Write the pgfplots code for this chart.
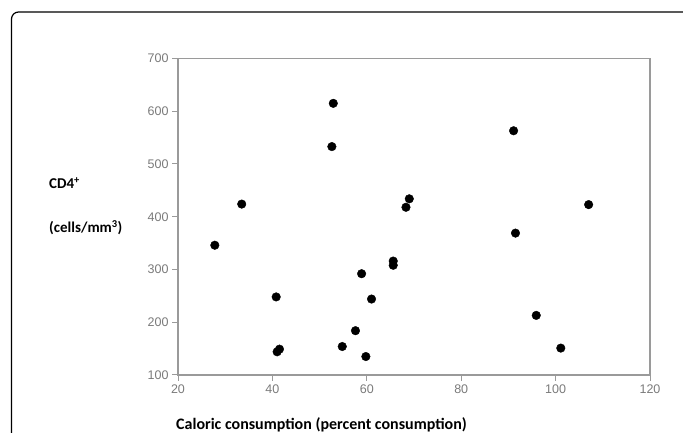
\documentclass[border=0pt]{standalone}
\usepackage{fontspec}
\setmainfont{Carlito}
\newfontfamily\arialfont{Liberation Sans}
\usepackage{pgfplots}
\pgfplotsset{compat=1.18}
\definecolor{axgray}{HTML}{9A9A9A}
\definecolor{tickgray}{HTML}{7A7A7A}

\begin{document}
\begin{tikzpicture}
  \useasboundingbox (0pt,0pt) rectangle (683pt,433pt);
  \begin{scope}
    \clip (0pt,0pt) rectangle (683pt,433pt);
    \draw[line width=1.2pt, rounded corners=7pt] (11.5pt,421pt) rectangle (720pt,-30pt);
  \end{scope}
  \begin{axis}[
      at={(178pt,58pt)}, anchor=south west,
      scale only axis,
      width  = 472pt,
      height = 316.5pt,
      xmin = 20, xmax = 120,
      ymin = 100, ymax = 700,
      xtick = {20,40,...,120},
      ytick = {100,200,...,700},
      xtick pos = bottom, ytick pos = left,
      tick align = outside,
      major tick length = 6pt,
      axis line style = {axgray, line width=1.5pt},
      tick style = {axgray, line width=1pt},
      tick label style = {font=\fontsize{12.5}{14}\selectfont\arialfont, text=tickgray},
      /pgf/number format/assume math mode=true,
    ]
    \addplot[only marks, mark=*, mark size=4.3pt, black] coordinates {
      (27.8,346)(33.5,424)(40.8,248)(41.5,149)(41.0,144)
      (52.9,615)(52.6,533)(54.8,154)(57.6,184)(58.9,292)
      (59.8,135)(61.0,244)(65.6,316)(65.6,308)(68.3,418)
      (69.0,434)(91.1,563)(91.5,369)(95.9,213)(101.1,151)
      (107.0,423)
    };
  \end{axis}
  \node[font=\fontsize{15}{18}\selectfont\bfseries, anchor=west, inner sep=0pt]
    at (49pt,250pt) {CD4\textsuperscript{+}};
  \node[font=\fontsize{15}{18}\selectfont\bfseries, anchor=west, inner sep=0pt]
    at (49pt,205pt) {(cells/mm\textsuperscript{3})};
  \node[font=\fontsize{16}{19}\selectfont\bfseries, anchor=west, inner sep=0pt]
    at (176pt,8pt) {Caloric consumption (percent consumption)};
\end{tikzpicture}
\end{document}
